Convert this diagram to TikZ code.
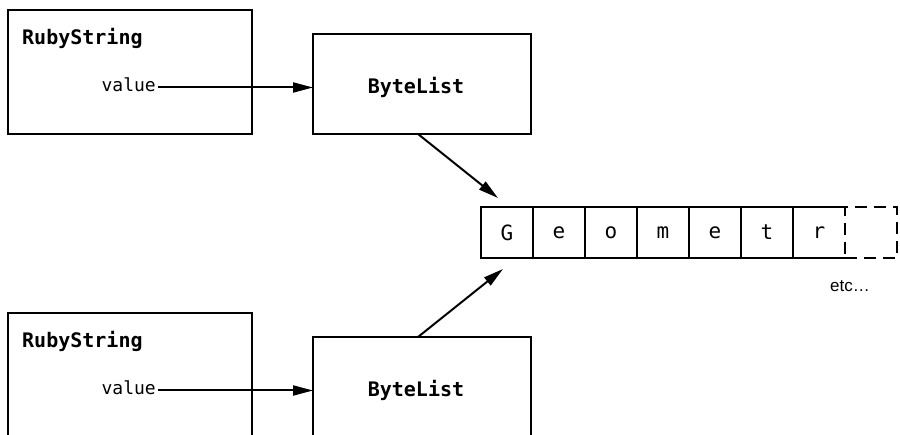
\documentclass[tikz,border=0pt]{standalone}
\usepackage{fontspec}
\setmonofont{DejaVu Sans Mono}
\setsansfont{Liberation Sans}
\usetikzlibrary{arrows.meta,calc}
\tikzset{
  box/.style={draw, line width=2pt, inner sep=0pt, outer sep=0pt, anchor=north west},
  lbl/.style={inner sep=0pt, font=\ttfamily\bfseries\fontsize{20}{24}\selectfont},
  val/.style={inner sep=0pt, font=\ttfamily\fontsize{18}{22}\selectfont},
  cell/.style={inner sep=0pt, outer sep=0pt, anchor=north west, minimum width=52pt, minimum height=51pt, line width=2pt, font=\ttfamily\fontsize{21}{24}\selectfont},
  arr/.style={line width=2pt, -{Triangle[length=20pt,width=10pt]}},
  dcell/.style={cell, draw, dash pattern=on 12pt off 7pt}
}
\begin{document}
\begin{tikzpicture}[x=1pt,y=-1pt]
\useasboundingbox (0,0) rectangle (900,435);
\clip (0,0) rectangle (900,435);
% top pair
\node[box, minimum width=244pt, minimum height=124pt] (rs1) at (8,10) {};
\node[lbl, anchor=base west] (rs1t) at (22,45) {RubyString};
\node[val, anchor=base east] (v1) at (156,92) {value};
\node[box, minimum width=218pt, minimum height=100pt] (bl1) at (313,34) {};
\node[lbl, anchor=base] (bl1t) at (416,94) {ByteList};
% bottom pair
\node[box, minimum width=244pt, minimum height=124pt] (rs2) at (8,313) {};
\node[lbl, anchor=base west] (rs2t) at (22,348) {RubyString};
\node[val, anchor=base east] (v2) at (156,395) {value};
\node[box, minimum width=218pt, minimum height=100pt] (bl2) at (313,337) {};
\node[lbl, anchor=base] (bl2t) at (416,397) {ByteList};
% array
\node[cell, draw] (c1) at (481,207) {G};
\node[cell, draw] (c2) at (c1.north east) {e};
\node[cell, draw] (c3) at (c2.north east) {o};
\node[cell, draw] (c4) at (c3.north east) {m};
\node[cell, draw] (c5) at (c4.north east) {e};
\node[cell, draw] (c6) at (c5.north east) {t};
\node[cell] (c7) at (c6.north east) {r};
\draw[line width=2pt] (c7.north east) -- (c7.north west) -- (c7.south west) -- (c7.south east);
\node[dcell] (c8) at (c7.north east) {};
\node[inner sep=0pt, anchor=base, font=\sffamily\fontsize{17}{20}\selectfont] (etc) at (850,292) {etc…};
% connectors
\coordinate (s1) at ($(v1.base east)+(2,-4.5)$);
\draw[arr] (s1) -- (s1 -| bl1.west);
\coordinate (s2) at ($(v2.base east)+(2,-4.5)$);
\draw[arr] (s2) -- (s2 -| bl2.west);
\draw[arr] ($(bl1.south west)+(105,0)$) -- ($(c1.north west)+(17,-9)$);
\draw[arr] ($(bl2.north west)+(105,0)$) -- ($(c1.south west)+(22,11)$);
\end{tikzpicture}
\end{document}
